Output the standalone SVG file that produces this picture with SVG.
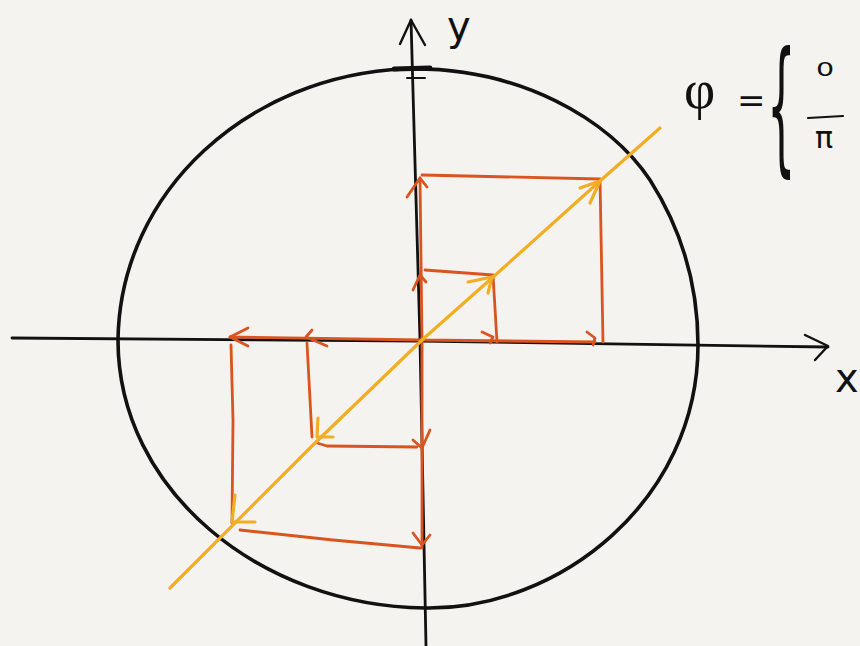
<svg xmlns="http://www.w3.org/2000/svg" width="860" height="646" viewBox="0 0 860 646">
<style>
.ink{fill:none;stroke:#111;stroke-linecap:round;stroke-linejoin:round}
.or{fill:none;stroke:#d9541f;stroke-width:2.8;stroke-linecap:round;stroke-linejoin:round}
.ye{fill:none;stroke:#f1ae24;stroke-width:3.2;stroke-linecap:round;stroke-linejoin:round}
.t{font-family:"DejaVu Sans","Liberation Sans",sans-serif;fill:#111}
</style>
<rect width="860" height="646" fill="#f4f3ef"/>
<g id="circle">
<path class="ink" stroke-width="3.6" d="M118,340 C120,190 250,75 405,69 C520,66 610,120 650,180 C685,235 698,290 698,345 C698,500 560,610 425,608 C260,606 118,490 118,340 Z"/>
<path class="ink" stroke-width="4.8" d="M394,69 L430,68"/>
<path class="ink" stroke-width="2" d="M407,78 L425,78"/>
</g>
<g id="axes">
<path class="ink" stroke-width="2.8" d="M411,20 L420,340 L426,646"/>
<path class="ink" stroke-width="2.4" d="M400,44 L411,20 L425,45"/>
<path class="ink" stroke-width="2.8" d="M12,338 L420,341 L828,347"/>
<path class="ink" stroke-width="2.4" d="M805,335 L828,346 L815,360"/>
<text class="t" x="447" y="40" font-size="40">y</text>
<text class="t" x="835" y="392" font-size="40">x</text>
</g>
<g id="construction">
<path class="or" d="M420,178 L422,340 L595,342"/>
<path class="or" d="M422,175 L600,179 L603,342"/>
<path class="or" d="M425,270 L493,275 L497,342"/>
<path class="or" d="M407,197 L420,178 L427,187"/>
<path class="or" d="M413,290 L420,275 L426,282"/>
<path class="or" d="M482,332 L493,337 L490,343"/>
<path class="or" d="M587,332 L595,338 L593,345"/>
<path class="or" d="M422,340 L230,337"/>
<path class="or" d="M248,328 L230,337 L248,346"/>
<path class="or" d="M312,330 L306,337 L327,346"/>
<path class="or" d="M231,345 L233,420 L232,523"/>
<path class="or" d="M307,343 L312,437"/>
<path class="or" d="M317,443 L327,446 L417,447"/>
<path class="or" d="M240,530 L333,540 L420,548"/>
<path class="or" d="M422,340 L422,548"/>
<path class="or" d="M430,430 L422,448 L413,440"/>
<path class="or" d="M413,533 L422,545 L430,535"/>
</g>
<g id="diagonal">
<path class="ye" d="M170,588 L315,443 L422,340 L492,278 L600,181 L660,128"/>
<path class="ye" d="M580,188 L600,181 L590,203"/>
<path class="ye" d="M468,282 L492,277 L488,293"/>
<path class="ye" d="M318,418 L317,437 L333,437"/>
<path class="ye" d="M235,495 L232,522 L255,522"/>
</g>
<g id="formula">
<text class="t" x="684" y="108" font-size="54" style="font-family:'Liberation Serif','DejaVu Serif',serif">φ</text>
<text class="t" x="737" y="112" font-size="34">=</text>
<text class="t" x="0" y="0" font-size="60" transform="translate(767,156) scale(0.75,2.45)">{</text>
<text class="t" x="0" y="0" font-size="22" transform="translate(816,76) scale(1.3,0.85)">0</text>
<path class="ink" stroke-width="2.2" d="M808,118 L843,116"/>
<text class="t" x="815" y="148" font-size="30">π</text>
</g>
</svg>
